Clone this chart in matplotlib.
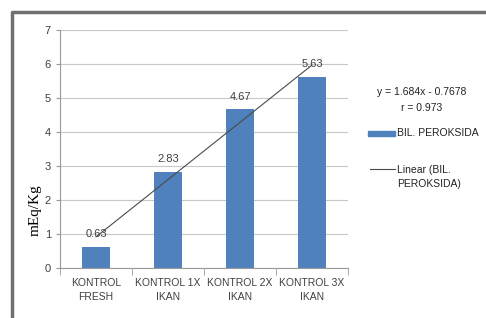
import matplotlib.pyplot as plt
import matplotlib.lines as mlines
import numpy as np

# data
kategori = ['KONTROL\nFRESH', 'KONTROL 1X\nIKAN', 'KONTROL 2X\nIKAN', 'KONTROL 3X\nIKAN']
nilai = [0.63, 2.83, 4.67, 5.63]
label_nilai = ['0.63', '2.83', '4.67', '5.63']
slope, intercept = 1.684, -0.7678

plt.rcParams['font.family'] = ['Liberation Sans', 'DejaVu Sans']

fig = plt.figure(figsize=(4.86, 3.18), dpi=100)
ax = fig.add_axes([60 / 486, 1 - 268 / 318, 288 / 486, 238 / 318])

x = np.arange(len(kategori))
ax.bar(x, nilai, width=0.4, color='#4F81BD', zorder=2)
for xi, v, t in zip(x, nilai, label_nilai):
    ax.text(xi, v + 0.22, t, ha='center', va='bottom', fontsize=8, color='#404040', zorder=4)

# garis tren linear
xt = np.array([0, 3])
ax.plot(xt, slope * (xt + 1) + intercept, color='#4a4a4a', lw=0.8, zorder=3)

ax.set_xlim(-0.5, 3.5)
ax.set_ylim(0, 7)
ax.set_yticks(range(8))
ax.set_xticks(x)
ax.set_xticklabels(kategori, fontsize=7.5, color='#404040', linespacing=1.5)
ax.tick_params(axis='y', labelsize=8, labelcolor='#404040', length=3, color='#999999')
ax.tick_params(axis='x', length=0, pad=7)
ax.set_xticks([-0.5, 0.5, 1.5, 2.5, 3.5], minor=True)
ax.tick_params(axis='x', which='minor', length=5, color='#999999')
ax.grid(axis='y', color='#c8c8c8', lw=0.8, zorder=0)
for s in ['top', 'right']:
    ax.spines[s].set_visible(False)
ax.spines['left'].set_color('#999999')
ax.spines['bottom'].set_color('#999999')

fig.text(35 / 486, 1 - 210 / 318, 'mEq/Kg', rotation=90, ha='center', va='center',
         fontsize=11, family='Liberation Serif')

# legenda manual
fig.text(422 / 486, 1 - 92 / 318, 'y = 1.684x - 0.7678', ha='center', va='center', fontsize=7.5, color='#222222')
fig.text(422 / 486, 1 - 108 / 318, 'r = 0.973', ha='center', va='center', fontsize=7.5, color='#222222')
fig.patches.append(plt.Rectangle((368 / 486, 1 - 136 / 318), 27 / 486, 5 / 318,
                                 transform=fig.transFigure, color='#4F81BD', figure=fig))
fig.text(397 / 486, 1 - 133 / 318, 'BIL. PEROKSIDA', ha='left', va='center', fontsize=7.5, color='#222222')
fig.lines.append(mlines.Line2D([370 / 486, 395 / 486], [1 - 169 / 318, 1 - 169 / 318],
                               transform=fig.transFigure, color='#4a4a4a', lw=0.8))
fig.text(397 / 486, 1 - 177 / 318, 'Linear (BIL.\nPEROKSIDA)', ha='left', va='center',
         fontsize=7.5, color='#222222', linespacing=1.5)

# bingkai
fig.lines.append(mlines.Line2D([12 / 486, 12 / 486, 1], [0, 1 - 12 / 318, 1 - 12 / 318],
                               transform=fig.transFigure, color='#707070', lw=2.5))

fig.savefig('out.png', dpi=100)
